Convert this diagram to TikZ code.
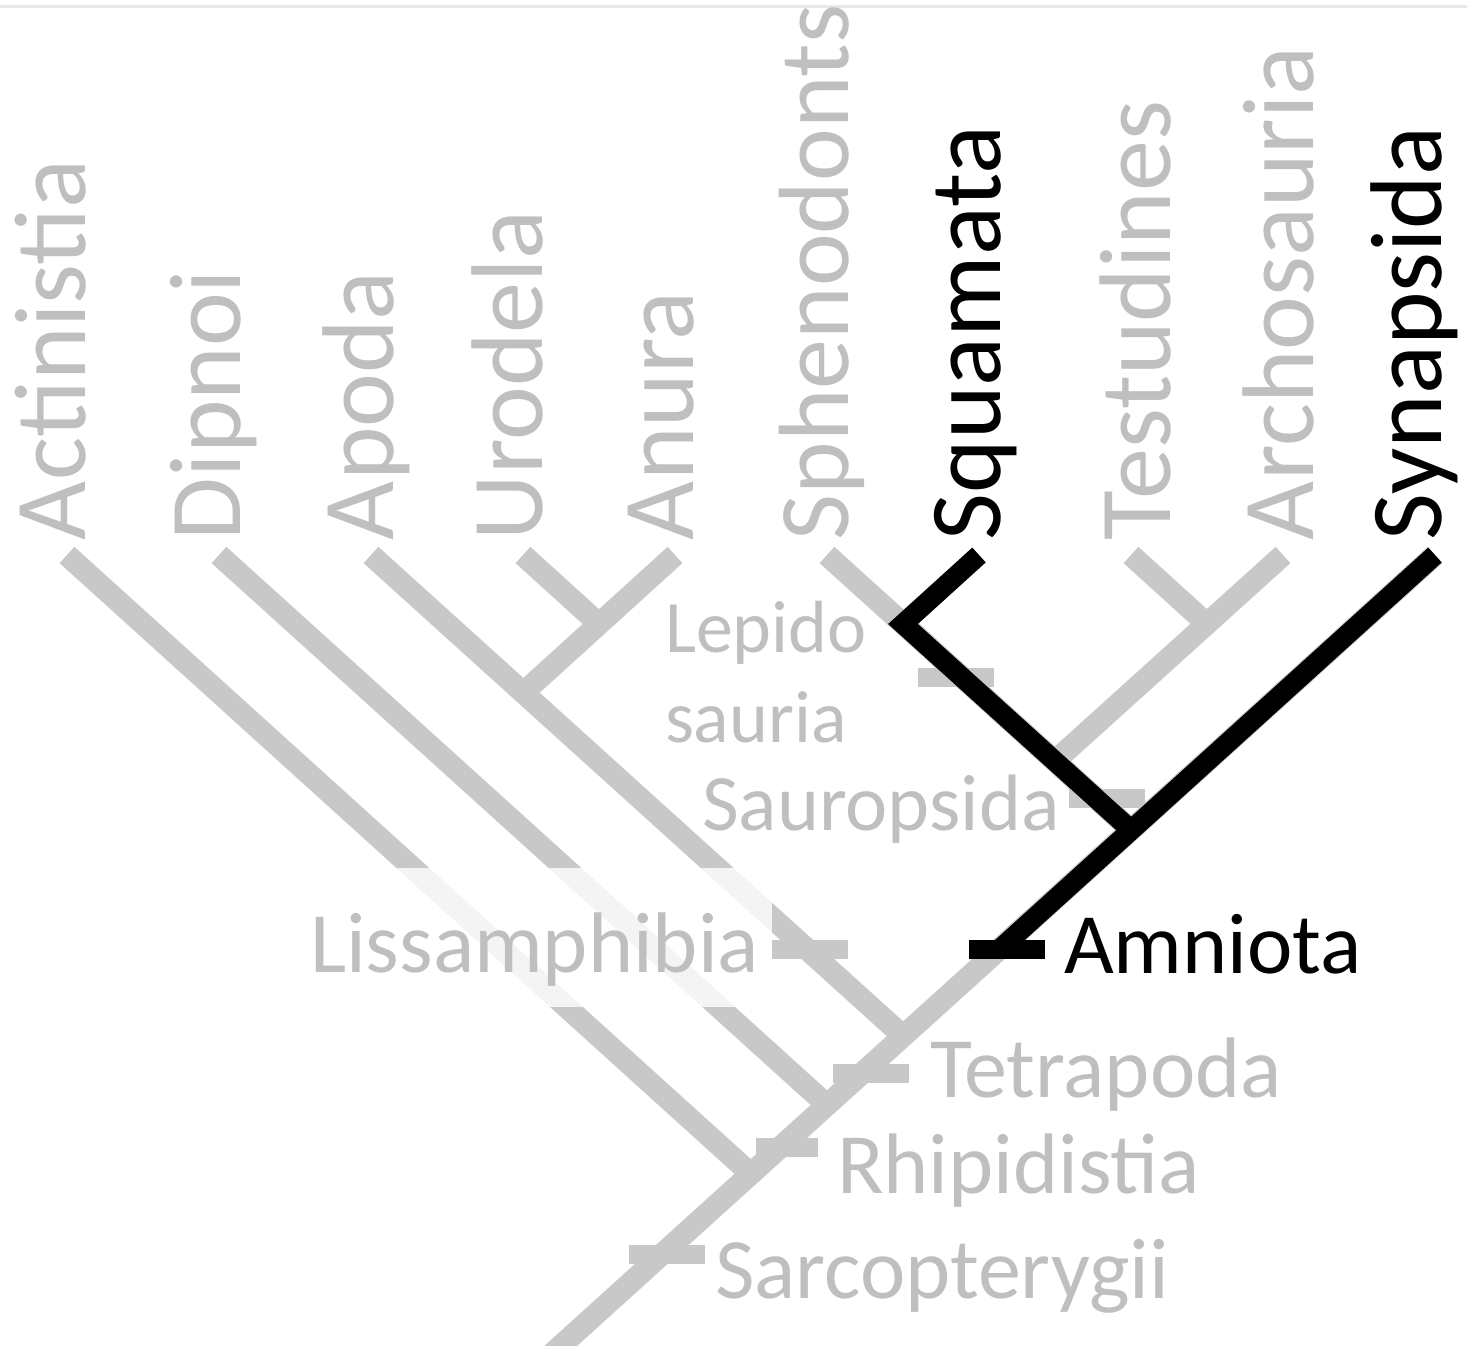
\documentclass[tikz,border=0pt]{standalone}
\usepackage{fontspec}
\setmainfont{Carlito}
\definecolor{linegray}{HTML}{C8C8C8}
\definecolor{textgray}{HTML}{BFBFBF}
\definecolor{rulegray}{HTML}{E8E8E8}

\tikzstyle{branch} = [line width=22pt, line cap=butt, draw=linegray]
\tikzstyle{hibranch} = [line width=20pt, line cap=butt, line join=miter, draw=black]
\tikzstyle{taxon} = [rotate=90, anchor=base west, inner sep=0pt, outer sep=0pt, text=textgray, font=\fontsize{102}{102}\selectfont]
\tikzstyle{clade} = [anchor=base west, inner sep=0pt, outer sep=0pt, text=textgray, font=\fontsize{86}{86}\selectfont]
\tikzstyle{tick} = [rectangle, minimum width=76pt, minimum height=19pt, inner sep=0pt, outer sep=0pt, fill=linegray]

\begin{document}
\begin{tikzpicture}[x=1pt, y=-1pt]
		\useasboundingbox (0,0) rectangle (1467,1346);
		\draw [line width=3pt, rulegray] (0,7) -- (1467,7);

		% tips of the tree
		\coordinate (tact) at (67,555);
		\coordinate (tdip) at (219,555);
		\coordinate (tapo) at (371,555);
		\coordinate (turo) at (523,555);
		\coordinate (tanu) at (675,555);
		\coordinate (tsph) at (827,555);
		\coordinate (tsqu) at (979,555);
		\coordinate (ttes) at (1131,555);
		\coordinate (tarc) at (1283,555);
		\coordinate (tsyn) at (1435,555);
		% branching points
		\coordinate (root) at (544,1361);
		\coordinate (jact) at (751,1174);
		\coordinate (jdip) at (827,1105);
		\coordinate (jtet) at (903,1036);
		\coordinate (jliss) at (523,693);
		\coordinate (juro) at (599,624);
		\coordinate (jsau) at (1131,830);
		\coordinate (jlep) at (903,624);
		\coordinate (jarc) at (1055,761);
		\coordinate (jtes) at (1207,624);
		\coordinate (jamn) at (1000,949);

		\draw [branch] (tsyn) -- (root);
		\draw [branch] (tact) -- (jact);
		\draw [branch] (tdip) -- (jdip);
		\draw [branch] (tapo) -- (jtet);
		\draw [branch] (tanu) -- (jliss);
		\draw [branch] (turo) -- (juro);
		\draw [branch] (tsph) -- (jsau);
		\draw [branch] (tarc) -- (jarc);
		\draw [branch] (ttes) -- (jtes);

		\node (klep) [tick] at (956,677) {};
		\node (ksau) [tick] at (1107,798) {};
		\node (kliss) [tick] at (810,949) {};
		\node (ktet) [tick] at (871,1073) {};
		\node (krhi) [tick, minimum width=62pt] at (787,1147) {};
		\node (ksar) [tick] at (667,1254) {};

		\node (liss) [clade, fill=white, fill opacity=0.8, text opacity=1, inner xsep=13pt, inner ysep=21pt, text height=83pt, text depth=14pt] at (297,972) {Lissamphibia};

		\draw [hibranch] (tsqu) -- (jlep) -- (jsau);
		\draw [hibranch] (tsyn) -- (jamn);
		\node (kamn) [tick, fill=black] at (1007,949) {};

		\node (act) [taxon] at (85,540) {Actinistia};
		\node (dip) [taxon] at (240,540) {Dipnoi};
		\node (apo) [taxon] at (393,540) {Apoda};
		\node (uro) [taxon] at (542,540) {Urodela};
		\node (anu) [taxon] at (693,540) {Anura};
		\node (sph) [taxon, font=\fontsize{100}{100}\selectfont] at (848,540) {Sphenodonts};
		\node (squ) [taxon, text=black] at (1000,540) {Squamata};
		\node (tes) [taxon] at (1170,540) {Testudines};
		\node (arc) [taxon] at (1313,540) {Archosauria};
		\node (syn) [taxon, text=black] at (1441,540) {Synapsida};

		\node (lep) [clade, font=\fontsize{74}{74}\selectfont] at (665,652) {Lepido};
		\node (lep2) [clade, font=\fontsize{74}{74}\selectfont] at (665,742) {sauria};
		\node (sau) [clade, font=\fontsize{80}{80}\selectfont] at (702,830) {Sauropsida};
		\node (amn) [clade, text=black] at (1064,973) {Amniota};
		\node (tet) [clade] at (930,1097) {Tetrapoda};
		\node (rhi) [clade] at (837,1193) {Rhipidistia};
		\node (sar) [clade] at (715,1298) {Sarcopterygii};
	\end{tikzpicture}
\end{document}
